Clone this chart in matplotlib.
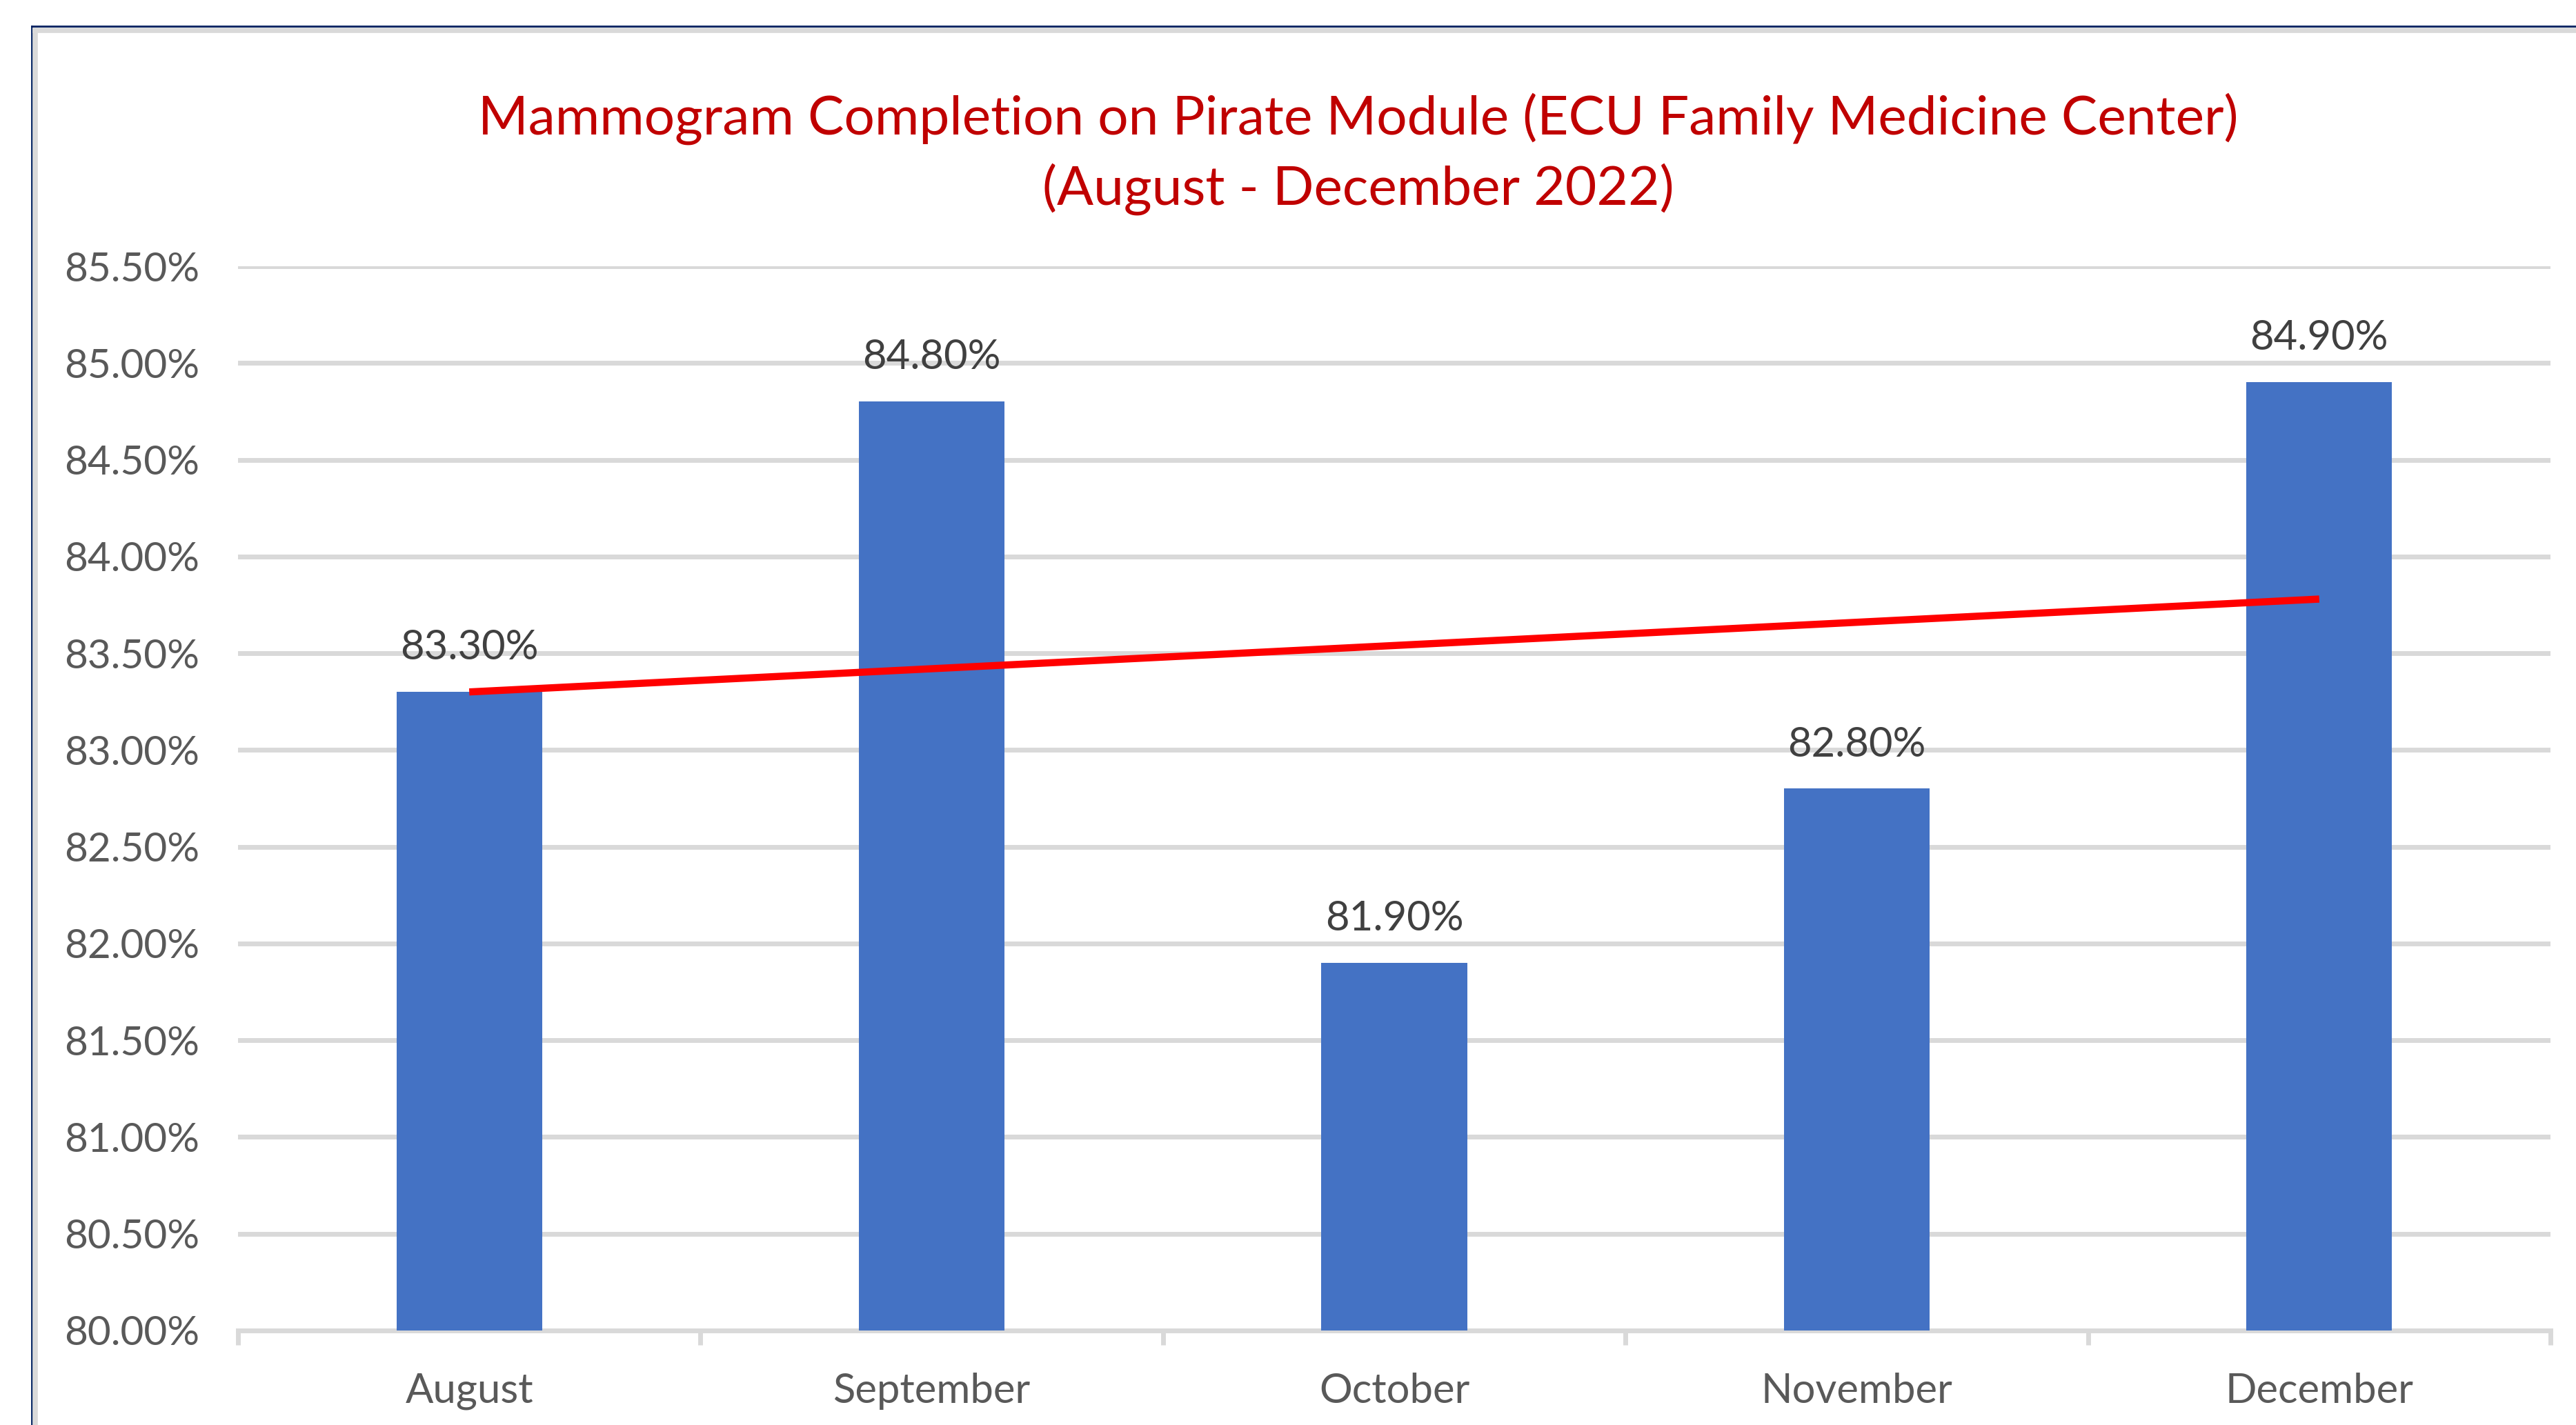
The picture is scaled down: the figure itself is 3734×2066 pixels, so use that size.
"""
Mammogram completion bar chart with linear trendline (Excel look).
"""
import matplotlib
import matplotlib.pyplot as plt
import numpy as np
from matplotlib.lines import Line2D
from matplotlib.ticker import FuncFormatter, MultipleLocator

matplotlib.use("Agg")

OUTPUT_PATH = "out.png"

# Data
months = ["August", "September", "October", "November", "December"]
completion = [83.30, 84.80, 81.90, 82.80, 84.90]
title_lines = [
    "Mammogram Completion on Pirate Module (ECU Family Medicine Center)",
    "(August - December 2022)",
]

BAR_COLOR = "#4472C4"
GRID_COLOR = "#D9D9D9"
TREND_COLOR = "#FF0000"
TITLE_COLOR = "#C00000"
FONT = ["Lato", "DejaVu Sans"]

plt.rcParams["font.family"] = FONT

W, H = 3734, 2066
fig = plt.figure(figsize=(W / 100, H / 100), dpi=100)
fig.patch.set_facecolor("white")

# Axes box placed to match the plot area of the reference
ax = fig.add_axes([345 / W, 1 - 1929 / H, (3697 - 345) / W, (1929 - 386) / H])

x = np.arange(len(months))
ax.bar(x, completion, width=0.315, color=BAR_COLOR, zorder=2)

# Linear trendline, fitted the same way Excel does
slope, intercept = np.polyfit(x, completion, 1)
ax.plot(x, slope * x + intercept, color=TREND_COLOR, lw=7.5, solid_capstyle="butt", zorder=3)

# Data labels above the bars
for xi, v in zip(x, completion):
    ax.annotate(f"{v:.2f}%", (xi, v), xytext=(0, 46), textcoords="offset points",
                ha="center", va="center", fontsize=43, color="#404040")

ax.set_xlim(-0.5, len(months) - 0.5)
ax.set_ylim(80, 85.5)
ax.yaxis.set_major_locator(MultipleLocator(0.5))
ax.yaxis.set_major_formatter(FuncFormatter(lambda v, _: f"{v:.2f}%"))
ax.grid(axis="y", color=GRID_COLOR, lw=5, zorder=0)
ax.set_axisbelow(True)

# Category labels at centres, tick marks at the boundaries
ax.set_xticks(x)
ax.set_xticklabels(months)
ax.set_xticks(np.arange(-0.5, len(months)), minor=True)
ax.tick_params(axis="x", which="major", length=0, pad=44, labelsize=43, labelcolor="#595959")
ax.tick_params(axis="x", which="minor", length=15, width=5, color=GRID_COLOR)
ax.tick_params(axis="y", length=0, pad=40, labelsize=42, labelcolor="#595959")

for side in ["left", "right", "top"]:
    ax.spines[side].set_visible(False)
ax.spines["bottom"].set_color(GRID_COLOR)
ax.spines["bottom"].set_linewidth(5)
ax.spines["bottom"].set_zorder(1)

# Title (two centred lines)
fig.text(1969 / W, 1 - 172 / H, title_lines[0], ha="center", va="center",
         fontsize=56.5, color=TITLE_COLOR)
fig.text(1969 / W, 1 - 274 / H, title_lines[1], ha="center", va="center",
         fontsize=56.5, color=TITLE_COLOR)

# Chart frame: navy outer line with a grey inner band, running off the right/bottom edges
fig.add_artist(Line2D([46 / W, 1], [1 - 38 / H, 1 - 38 / H], color="#002060", lw=2))
fig.add_artist(Line2D([46 / W, 46 / W], [0, 1 - 38 / H], color="#002060", lw=2))
fig.add_artist(Line2D([51 / W, 1], [1 - 44 / H, 1 - 44 / H], color=GRID_COLOR, lw=5.5))
fig.add_artist(Line2D([51 / W, 51 / W], [0, 1 - 44 / H], color=GRID_COLOR, lw=5.5))

fig.savefig(OUTPUT_PATH, dpi=100)
print(f"Saved graph to {OUTPUT_PATH}")
